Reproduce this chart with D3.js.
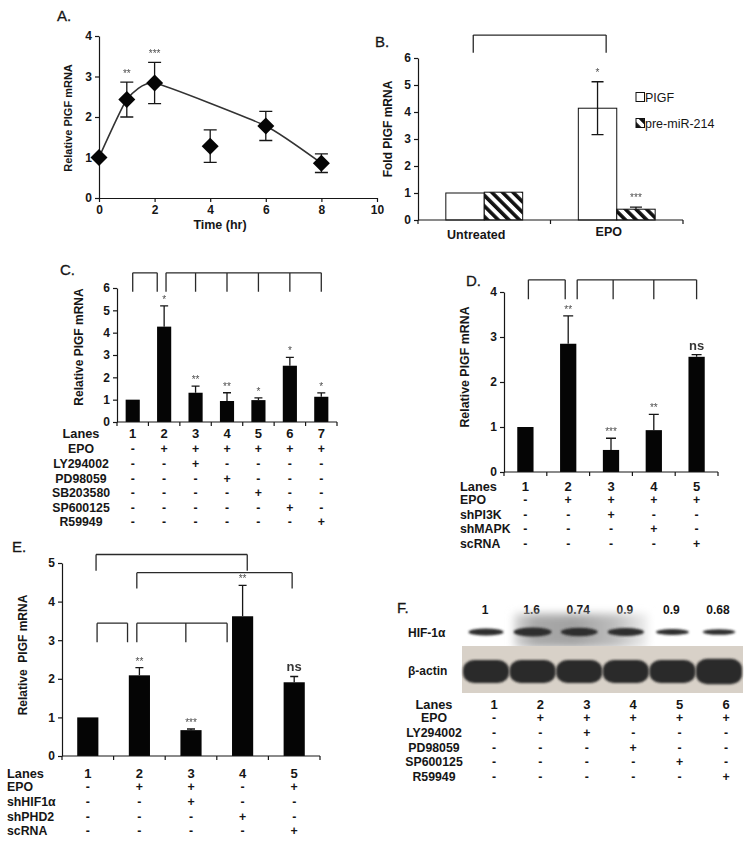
<!DOCTYPE html>
<html><head><meta charset="utf-8">
<script src="https://cdn.jsdelivr.net/npm/d3@7"></script>
<style>
body{margin:0;background:#fff;}
svg{display:block;font-family:"Liberation Sans",Arial,sans-serif;}
</style></head><body><svg id="c" width="751" height="843"></svg>
<script>
// ---------------- DATA ----------------
// Panel A
const timeA = [0, 1, 2, 4, 6, 8];
const valA = [1, 2.43, 2.84, 1.28, 1.78, 0.86];
const errA = [0, 0.43, 0.51, 0.40, 0.36, 0.23];
const starsA = ["", "**", "***", "", "", ""];
const trendIdxA = [0, 1, 2, 4, 5];
const xTicksA = [0, 2, 4, 6, 8, 10];
const yTicksA = [0, 1, 2, 3, 4];
// Panel B
const catsB = ["Untreated", "EPO"];
const seriesB = ["PIGF", "pre-miR-214"];
const pigfB = [1, 4.14];
const pigfErrB = [0, 0.98];
const mirB = [1.03, 0.40];
const mirErrB = [0, 0.08];
const starsPigfB = ["", "*"];
const starsMirB = ["", "***"];
const yTicksB = [0, 1, 2, 3, 4, 5, 6];
// Panel C
const lanesC = ["1", "2", "3", "4", "5", "6", "7"];
const valC = [1, 4.27, 1.31, 0.94, 0.98, 2.52, 1.13];
const errC = [0, 0.93, 0.30, 0.37, 0.10, 0.37, 0.17];
const starsC = ["", "*", "**", "**", "*", "*", "*"];
const rowsC = ["EPO", "LY294002", "PD98059", "SB203580", "SP600125", "R59949"];
const signsC = ["-++++++", "--+----", "---+---", "----+--", "-----+-", "------+"];
const yTicksC = [0, 1, 2, 3, 4, 5, 6];
// Panel D
const lanesD = ["1", "2", "3", "4", "5"];
const valD = [1, 2.85, 0.49, 0.93, 2.56];
const errD = [0, 0.62, 0.26, 0.35, 0.05];
const starsD = ["", "**", "***", "**", "ns"];
const rowsD = ["EPO", "shPI3K", "shMAPK", "scRNA"];
const signsD = ["-++++", "--+--", "---+-", "----+"];
const yTicksD = [0, 1, 2, 3, 4];
// Panel E
const lanesE = ["1", "2", "3", "4", "5"];
const valE = [1, 2.09, 0.67, 3.62, 1.91];
const errE = [0, 0.20, 0.03, 0.80, 0.15];
const starsE = ["", "**", "***", "**", "ns"];
const rowsE = ["EPO", "shHIF1α", "shPHD2", "scRNA"];
const signsE = ["-++-+", "--+--", "---+-", "----+"];
const yTicksE = [0, 1, 2, 3, 4, 5];
// Panel F (western blot)
const lanesF = ["1", "2", "3", "4", "5", "6"];
const quantF = ["1", "1.6", "0.74", "0.9", "0.9", "0.68"];
const hifBandF = [0.7, 1, 0.9, 0.85, 0.5, 0.45];
const actinBandF = [1, 1, 1, 1, 1, 1.1];
const rowsF = ["EPO", "LY294002", "PD98059", "SP600125", "R59949"];
const signsF = ["-+++++", "--+---", "---+--", "----+-", "-----+"];

// ---------------- HELPERS ----------------
const svg = d3.select("#c");
const INK = "#161616";
const STAR = "#4a4a4a";

const defs = svg.append("defs");
const hatch = defs.append("pattern").attr("id", "hatch").attr("patternUnits", "userSpaceOnUse")
  .attr("width", 7.5).attr("height", 7.5).attr("patternTransform", "rotate(-45)");
hatch.append("rect").attr("width", 7.5).attr("height", 7.5).attr("fill", "#fff");
hatch.append("rect").attr("width", 3.6).attr("height", 7.5).attr("fill", "#111");
const blur1 = defs.append("filter").attr("id", "blur1").attr("x", "-20%").attr("y", "-50%").attr("width", "140%").attr("height", "200%");
blur1.append("feGaussianBlur").attr("stdDeviation", 1.3);
const blur2 = defs.append("filter").attr("id", "blur2").attr("x", "-30%").attr("y", "-60%").attr("width", "160%").attr("height", "220%");
blur2.append("feGaussianBlur").attr("stdDeviation", 4);
const smudge = defs.append("linearGradient").attr("id", "smudge");
[[0, "#d8d8d8"], [0.15, "#a9a9a9"], [0.45, "#a2a2a2"], [0.75, "#bdbdbd"], [1, "#efefef"]]
  .forEach(([o, c]) => smudge.append("stop").attr("offset", o).attr("stop-color", c));

const starLayer = () => svg.append("g").attr("opacity", 0.99);

function letter(t, x, y) {
  svg.append("text").attr("x", x).attr("y", y).attr("font-size", 15).attr("fill", INK)
    .attr("stroke", INK).attr("stroke-width", 0.3).text(t);
}
function styleAxis(g) {
  g.selectAll("path,line").attr("stroke", INK).attr("stroke-width", 1.2);
  g.selectAll("text").attr("font-weight", "bold").attr("font-size", 12).attr("fill", INK);
}
function yAxis(scale, x, ticks) {
  const g = svg.append("g").attr("transform", `translate(${x},0)`)
    .call(d3.axisLeft(scale).tickValues(ticks).tickSize(4).tickSizeOuter(0).tickPadding(3).tickFormat(d3.format("d")));
  styleAxis(g);
}
function yLabel(text, x, yc, size) {
  svg.append("text").attr("transform", `translate(${x},${yc}) rotate(-90)`)
    .attr("text-anchor", "middle").attr("font-weight", "bold").attr("font-size", size)
    .attr("fill", INK).style("white-space", "pre").text(text);
}
function bandAxis(x, y0) {
  const [a, b] = x.range();
  const n = x.domain().length;
  const step = (b - a) / n;
  const g = svg.append("g");
  g.append("line").attr("x1", a).attr("x2", b).attr("y1", y0).attr("y2", y0);
  d3.range(n + 1).forEach(i => g.append("line").attr("x1", a + i * step).attr("x2", a + i * step)
    .attr("y1", y0).attr("y2", y0 + 4));
  g.selectAll("line").attr("stroke", INK).attr("stroke-width", 1.2);
}
function bracket(xs, yTop, yLeg) {
  const p = d3.path();
  p.moveTo(d3.min(xs), yTop); p.lineTo(d3.max(xs), yTop);
  xs.forEach(x => { p.moveTo(x, yTop); p.lineTo(x, yLeg); });
  svg.append("path").attr("d", p.toString()).attr("fill", "none").attr("stroke", "#2a2a2a").attr("stroke-width", 1.3);
}
function errBar(x, yv, yTop, yBot, half) {
  const p = d3.path();
  p.moveTo(x, yBot); p.lineTo(x, yTop);
  p.moveTo(x - half, yTop); p.lineTo(x + half, yTop);
  if (yBot !== yv) { p.moveTo(x - half, yBot); p.lineTo(x + half, yBot); }
  svg.append("path").attr("d", p.toString()).attr("fill", "none").attr("stroke", INK).attr("stroke-width", 1.3);
}
function starText(t, x, yCap) {
  if (!t) return;
  const ns = t === "ns";
  starLayer().append("text").attr("x", x).attr("y", ns ? yCap - 5 : yCap - 3)
    .attr("text-anchor", "middle").attr("font-size", ns ? 13 : 10)
    .attr("font-weight", ns ? "bold" : "normal").attr("fill", ns ? "#333" : STAR).text(t);
}
function table(rows, signs, laneNames, colX, labelX, anchor, yLanes, yFirst, dy) {
  const g = svg.append("g").attr("fill", INK).attr("font-weight", "bold");
  g.append("text").attr("x", labelX).attr("y", yLanes + 4.5).attr("text-anchor", anchor)
    .attr("font-size", 12.8).text("Lanes");
  laneNames.forEach((l, i) => g.append("text").attr("x", colX(i)).attr("y", yLanes + 4.5)
    .attr("text-anchor", "middle").attr("font-size", 13).text(l));
  rows.forEach((r, j) => {
    const y = yFirst + j * dy + 4.3;
    g.append("text").attr("x", labelX).attr("y", y).attr("text-anchor", anchor).attr("font-size", 12.3).text(r);
    signs[j].split("").forEach((s, i) => g.append("text").attr("x", colX(i)).attr("y", y)
      .attr("text-anchor", "middle").attr("font-size", 12.3).text(s));
  });
}
function barPanel(o) {
  const x = d3.scaleBand().domain(o.lanes).range(o.xr).paddingInner(o.pad).paddingOuter(o.pad / 2);
  const y = d3.scaleLinear().domain(o.yd).range(o.yr);
  const step = (o.xr[1] - o.xr[0]) / o.lanes.length;
  const laneX = d3.scaleLinear().domain([1, 2]).range([o.xr[0] + step / 2, o.xr[0] + step * 1.5]);
  svg.append("g").selectAll("rect").data(o.vals).join("rect")
    .attr("x", (d, i) => x(o.lanes[i])).attr("width", x.bandwidth())
    .attr("y", d => y(d)).attr("height", d => y(0) - y(d)).attr("fill", "#050505");
  o.vals.forEach((v, i) => {
    const cx = x(o.lanes[i]) + x.bandwidth() / 2;
    if (o.errs[i] > 0) errBar(cx, y(v), y(v + o.errs[i]), y(v), o.cap);
    starText(o.stars[i], cx, y(v + o.errs[i]));
  });
  yAxis(y, o.xr[0], o.ticks);
  bandAxis(x, y(0));
  o.brackets.forEach(b => bracket(b.legs.map(l => laneX(l)), y(b.top), y(b.leg)));
  return { x, y, colX: i => x(o.lanes[i]) + x.bandwidth() / 2 };
}

// ---------------- PANEL A ----------------
letter("A.", 57, 21);
const xA = d3.scaleLinear().domain([0, 10]).range([99, 377]);
const yA = d3.scaleLinear().domain([0, 4]).range([198, 36]);
yAxis(yA, 99, yTicksA);
const gxA = svg.append("g").attr("transform", "translate(0,198)")
  .call(d3.axisBottom(xA).tickValues(xTicksA).tickSize(4).tickSizeOuter(0).tickPadding(3));
styleAxis(gxA);
svg.append("path")
  .attr("d", d3.line().curve(d3.curveCardinal.tension(0.55)).x(i => xA(timeA[i])).y(i => yA(valA[i]))(trendIdxA))
  .attr("fill", "none").attr("stroke", "#333").attr("stroke-width", 1.6);
timeA.forEach((t, i) => {
  const cx = xA(t), cy = yA(valA[i]);
  if (errA[i] > 0) errBar(cx, cy, yA(valA[i] + errA[i]), yA(valA[i] - errA[i]), 6.5);
  const p = d3.path();
  p.moveTo(cx, cy - 8.5); p.lineTo(cx + 8.5, cy); p.lineTo(cx, cy + 8.5); p.lineTo(cx - 8.5, cy); p.closePath();
  svg.append("path").attr("d", p.toString()).attr("fill", "#050505");
  if (starsA[i]) starLayer().append("text").attr("x", cx).attr("y", yA(valA[i] + errA[i]) - 5)
    .attr("text-anchor", "middle").attr("font-size", 10).attr("fill", STAR).text(starsA[i]);
});
yLabel("Relative PIGF mRNA", 72, 118, 11);
svg.append("text").attr("x", 220).attr("y", 229).attr("text-anchor", "middle")
  .attr("font-weight", "bold").attr("font-size", 12.5).attr("fill", INK).text("Time (hr)");

// ---------------- PANEL B ----------------
letter("B.", 375, 47);
const x0B = d3.scaleBand().domain(catsB).range([418, 683]);
const x1B = d3.scaleBand().domain(seriesB).range([x0B.bandwidth() * 0.21, x0B.bandwidth() * 0.79]);
const yB = d3.scaleLinear().domain([0, 6]).range([220, 58]);
const catPosB = d3.scaleLinear().domain([0, 1]).range([x0B(catsB[0]) + x0B.bandwidth() / 2, x0B(catsB[1]) + x0B.bandwidth() / 2]);
bracket([catPosB(-0.083), catPosB(0.92)], yB(6.85), yB(6.19));
catsB.forEach((c, i) => {
  [[pigfB, pigfErrB, starsPigfB, "#fff", seriesB[0]], [mirB, mirErrB, starsMirB, "url(#hatch)", seriesB[1]]]
    .forEach(([vals, errs, stars, fill, s]) => {
      const bx = x0B(c) + x1B(s);
      svg.append("rect").attr("x", bx).attr("width", x1B.bandwidth()).attr("y", yB(vals[i]))
        .attr("height", yB(0) - yB(vals[i])).attr("fill", fill).attr("stroke", "#111").attr("stroke-width", 1);
      const cx = bx + x1B.bandwidth() / 2;
      if (errs[i] > 0) errBar(cx, yB(vals[i]), yB(vals[i] + errs[i]), errs[i] > 0.5 ? yB(vals[i] - errs[i]) : yB(vals[i]), 6);
      starText(stars[i], cx, yB(vals[i] + errs[i]) - 3);
    });
  svg.append("text").attr("x", x0B(c) + x0B.bandwidth() / 2 - 8).attr("y", 239 - 3 * i).attr("text-anchor", "middle")
    .attr("font-weight", "bold").attr("font-size", 12.5).attr("fill", INK).text(c);
});
yAxis(yB, 418, yTicksB);
bandAxis(x0B, 220);
yLabel("Fold PIGF mRNA", 392, 129, 12);
seriesB.forEach((s, i) => {
  const ly = 97 + i * 26;
  svg.append("rect").attr("x", 636).attr("y", ly - 4.5).attr("width", 8.5).attr("height", 9)
    .attr("fill", i ? "url(#hatch)" : "#fff").attr("stroke", "#111").attr("stroke-width", 1);
  svg.append("text").attr("x", 645).attr("y", ly + 4.5).attr("font-size", 12.5).attr("fill", INK).text(s);
});

// ---------------- PANEL C ----------------
letter("C.", 60, 275);
const pC = barPanel({
  lanes: lanesC, vals: valC, errs: errC, stars: starsC, xr: [117, 337], pad: 0.55,
  yd: [0, 6], yr: [422, 288], ticks: yTicksC, cap: 4,
  brackets: [{ legs: [1, 1.78], top: 6.68, leg: 5.83 }, { legs: [2.06, 3, 4, 5, 6, 7], top: 6.68, leg: 5.83 }]
});
yLabel("Relative PIGF mRNA", 83, 347, 12);
table(rowsC, signsC, lanesC, pC.colX, 81, "middle", 433, 449, 14.6);

// ---------------- PANEL D ----------------
letter("D.", 466, 286);
const pD = barPanel({
  lanes: lanesD, vals: valD, errs: errD, stars: starsD, xr: [504, 718], pad: 0.62,
  yd: [0, 4], yr: [472, 292], ticks: yTicksD, cap: 5,
  brackets: [{ legs: [1.07, 1.93], top: 4.27, leg: 3.84 }, { legs: [2.21, 3.05, 4, 5], top: 4.27, leg: 3.84 }]
});
yLabel("Relative PIGF mRNA", 469, 367, 12.4);
table(rowsD, signsD, lanesD, pD.colX, 460, "start", 486, 500, 14.5);

// ---------------- PANEL E ----------------
letter("E.", 12, 552);
const pE = barPanel({
  lanes: lanesE, vals: valE, errs: errE, stars: starsE, xr: [62, 320], pad: 0.59,
  yd: [0, 5], yr: [756, 563], ticks: yTicksE, cap: 4,
  brackets: [
    { legs: [1.16, 4.09], top: 5.22, leg: 4.8 },
    { legs: [1.95, 4.96], top: 4.75, leg: 4.34 },
    { legs: [1.18, 1.77], top: 3.44, leg: 2.95 },
    { legs: [1.95, 2.9, 3.7], top: 3.44, leg: 2.95 }
  ]
});
yLabel("Relative\u00a0\u00a0PIGF mRNA", 27, 655, 12);
table(rowsE, signsE, lanesE, pE.colX, 7, "start", 773, 787, 14.7);

// ---------------- PANEL F ----------------
letter("F.", 397, 613);
const xBlot = d3.scalePoint().domain(lanesF).range([486, 719]);
const xTabF = d3.scalePoint().domain(lanesF).range([494, 726]);
quantF.forEach((q, i) => svg.append("text").attr("x", xBlot(lanesF[i]) - 1).attr("y", 614)
  .attr("text-anchor", "middle").attr("font-weight", "bold").attr("font-size", 12).attr("fill", INK).text(q));
// HIF-1a strip smudge
svg.append("rect").attr("x", 514).attr("y", 614).attr("width", 134).attr("height", 34)
  .attr("fill", "url(#smudge)").attr("filter", "url(#blur2)");
hifBandF.forEach((b, i) => {
  const cx = xBlot(lanesF[i]);
  svg.append("ellipse").attr("cx", cx).attr("cy", 632).attr("rx", 14 + 5 * b).attr("ry", 1.5 + 3 * b)
    .attr("fill", "#2e2e2e").attr("filter", "url(#blur1)");
});
// beta-actin strip
svg.append("rect").attr("x", 462).attr("y", 646).attr("width", 281).attr("height", 47).attr("fill", "#d8d1c8");
actinBandF.forEach((b, i) => {
  const cx = xBlot(lanesF[i]);
  const h = 23 * b;
  svg.append("rect").attr("x", cx - 23).attr("y", 671.5 - h / 2).attr("width", 46).attr("height", h)
    .attr("rx", 11).attr("ry", 10).attr("fill", "#2a2a2a").attr("filter", "url(#blur1)");
});
svg.append("text").attr("x", 408).attr("y", 636.5).attr("font-weight", "bold").attr("font-size", 12).attr("fill", INK).text("HIF-1α");
svg.append("text").attr("x", 408).attr("y", 674.5).attr("font-weight", "bold").attr("font-size", 12).attr("fill", INK).text("β-actin");
table(rowsF, signsF, lanesF, i => xTabF(lanesF[i]), 434, "middle", 704, 718, 14.7);
</script></body></html>
